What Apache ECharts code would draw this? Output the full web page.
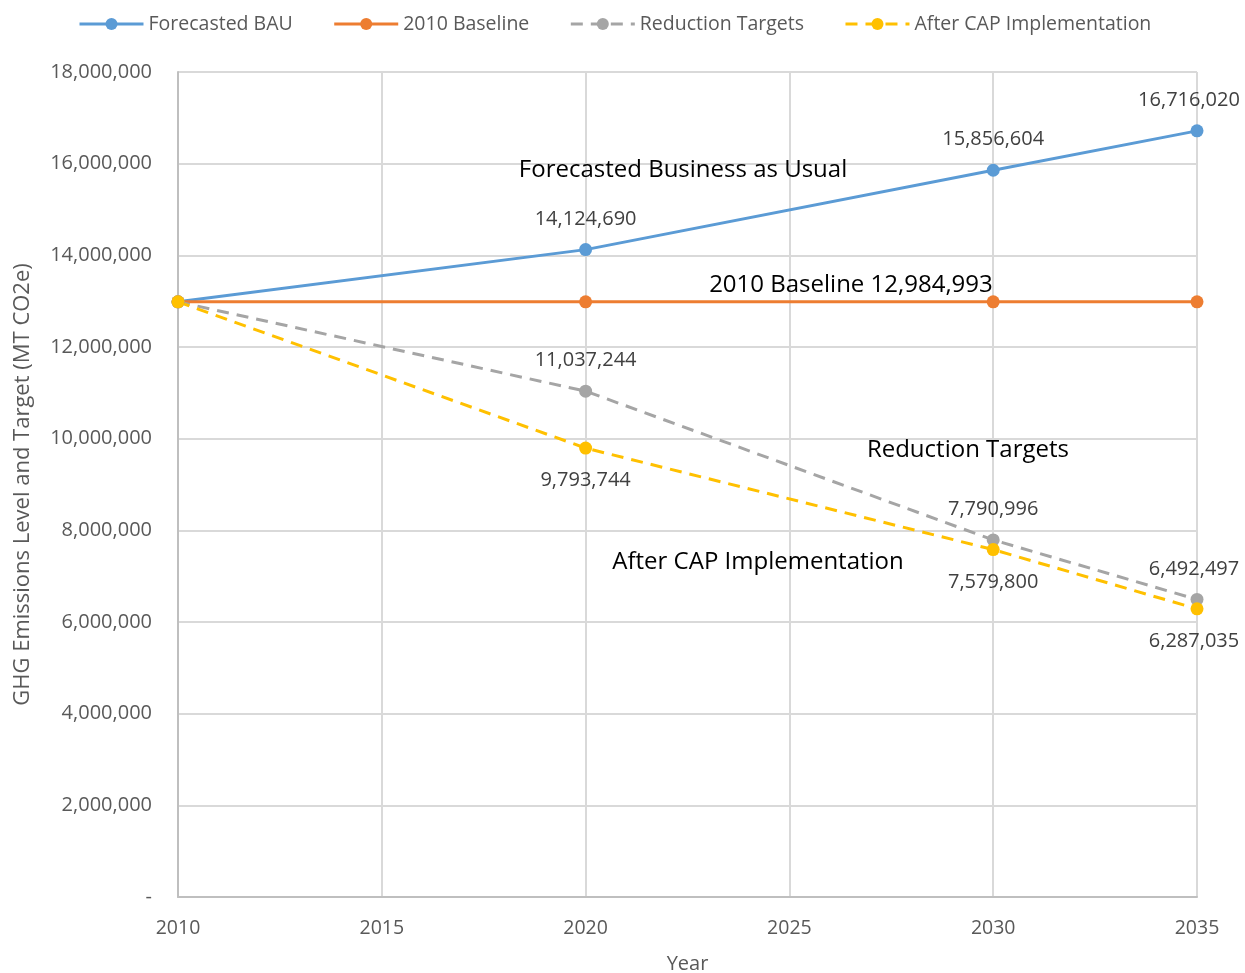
<!DOCTYPE html>
<html><head><meta charset="utf-8">
<script src="https://cdn.jsdelivr.net/npm/echarts@6/dist/echarts.min.js"></script>
<style>html,body{margin:0;padding:0;background:#fff}#c{width:1245px;height:973px}</style>
</head><body><div id="c"></div>
<script>
const years = [2010, 2020, 2030, 2035];
const bau = [12984993, 14124690, 15856604, 16716020];
const baseline = [12984993, 12984993, 12984993, 12984993];
const reduction = [12984993, 11037244, 7790996, 6492497];
const afterCap = [12984993, 9793744, 7579800, 6287035];
const seriesNames = ['Forecasted BAU', '2010 Baseline', 'Reduction Targets', 'After CAP Implementation'];
const annotations = ['Forecasted Business as Usual', '2010 Baseline 12,984,993', 'Reduction Targets', 'After CAP Implementation'];

const FONT = 'Open Sans';
const fmt = v => v === 0 ? '-' : Math.round(v).toLocaleString('en-US');
const pairs = (arr, lastShift) => years.map((y, i) => (i === years.length - 1)
  ? { value: [y, arr[i]], label: { offset: [lastShift, 0] } }
  : [y, arr[i]]);

const chart = echarts.init(document.getElementById('c'));
function mk(name, data, color, dashed, labelPos, showLabel, lastShift) {
  return {
    name, type: 'line', data: pairs(data, lastShift),
    symbol: 'circle', symbolSize: 13,
    lineStyle: { color, width: 3, type: dashed ? [12, 8] : 'solid' },
    itemStyle: { color },
    label: {
      show: showLabel, position: labelPos, distance: labelPos === 'top' ? 14 : 16,
      fontFamily: FONT, fontSize: 20, color: '#404040',
      formatter: p => p.dataIndex === 0 ? '' : fmt(p.value[1])
    },
    emphasis: { disabled: true }, animation: false
  };
}
chart.setOption({
  animation: false,
  textStyle: { fontFamily: FONT },
  grid: { left: 178, right: 48, top: 72, bottom: 76, containLabel: false, outerBoundsMode: 'none' },
  legend: {
    top: 9, left: 73, itemWidth: 64, itemHeight: 15, itemGap: 40,
    lineStyle: { width: 3 },
    textStyle: { fontFamily: FONT, fontSize: 19.5, color: '#595959' },
    data: seriesNames
  },
  xAxis: {
    type: 'value', min: 2010, max: 2035, interval: 5,
    name: 'Year', nameLocation: 'middle', nameGap: 57,
    nameTextStyle: { fontFamily: FONT, fontSize: 20, color: '#595959' },
    axisLine: { show: true, lineStyle: { color: '#bfbfbf', width: 2 } },
    axisTick: { show: false },
    axisLabel: { margin: 21, fontFamily: FONT, fontSize: 19.5, color: '#595959', formatter: v => String(v) },
    splitLine: { show: true, lineStyle: { color: '#d9d9d9', width: 2 } }
  },
  yAxis: {
    type: 'value', min: 0, max: 18000000, interval: 2000000,
    name: 'GHG Emissions Level and Target (MT CO2e)', nameLocation: 'middle', nameGap: 144,
    nameTextStyle: { fontFamily: FONT, fontSize: 22, color: '#595959' },
    axisLine: { show: true, lineStyle: { color: '#bfbfbf', width: 2 } },
    axisTick: { show: false },
    axisLabel: { margin: 26, fontFamily: FONT, fontSize: 20, color: '#595959', formatter: fmt },
    splitLine: { show: true, lineStyle: { color: '#d9d9d9', width: 2 } }
  },
  series: [
    mk(seriesNames[0], bau, '#5b9bd5', false, 'top', true, -8),
    mk(seriesNames[1], baseline, '#ed7d31', false, 'top', false, 0),
    mk(seriesNames[2], reduction, '#a5a5a5', true, 'top', true, -3),
    mk(seriesNames[3], afterCap, '#ffc000', true, 'bottom', true, -3)
  ]
});
function conv(x, y) { return chart.convertToPixel({ gridIndex: 0 }, [x, y]); }
const annPos = [[2022.39, 15860000], [2026.51, 13350000], [2029.38, 9750000], [2024.23, 7310000]];
chart.setOption({
  graphic: annotations.map((t, i) => {
    const p = conv(annPos[i][0], annPos[i][1]);
    return { type: 'text', x: p[0], y: p[1], silent: true,
      style: { text: t, fontFamily: FONT, fontSize: 24, fill: '#000', align: 'center', verticalAlign: 'middle' } };
  })
});
</script></body></html>
